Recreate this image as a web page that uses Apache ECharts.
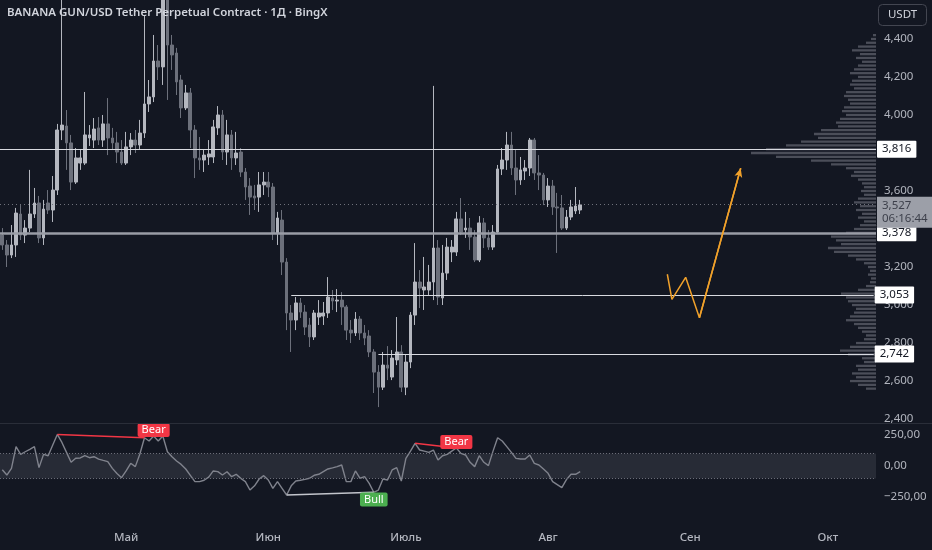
<!DOCTYPE html>
<html><head><meta charset="utf-8">
<script src="https://cdn.jsdelivr.net/npm/echarts@6/dist/echarts.min.js"></script>
<style>html,body{margin:0;padding:0;background:#131722;overflow:hidden}#c{width:932px;height:550px}</style>
</head><body><div id="c"></div>
<script>
// ---- data ----
const titleText = 'BANANA GUN/USD Tether Perpetual Contract · 1Д · BingX';
const startDay = [2025, 3, 4]; // first candle: 4 Apr
const categoryCount = 191;
const monthNames = {'05':'Май','06':'Июн','07':'Июль','08':'Авг','09':'Сен','10':'Окт'};
const priceTicks = [2.4, 2.6, 2.8, 3.0, 3.2, 3.4, 3.6, 3.8, 4.0, 4.2, 4.4];
const cciTicks = [-250, 0, 250];

// [open, close, low, high]
const priceOHLC = [
[3.368,3.316,3.290,3.405],[3.316,3.263,3.200,3.342],[3.263,3.316,3.247,3.421],[3.316,3.484,3.253,3.511],
[3.479,3.368,3.342,3.526],[3.368,3.405,3.326,3.447],[3.405,3.479,3.384,3.711],[3.479,3.537,3.458,3.616],
[3.537,3.353,3.326,3.574],[3.353,3.505,3.316,3.553],[3.537,3.500,3.479,3.605],[3.500,3.605,3.437,3.679],
[3.605,3.921,3.579,3.953],[3.921,3.947,3.868,4.711],[3.942,3.853,3.711,4.026],[3.853,3.647,3.605,3.895],
[3.647,3.774,3.637,3.826],[3.747,3.774,3.711,3.816],[3.747,3.895,3.737,4.121],[3.879,3.895,3.837,3.947],
[3.868,3.926,3.826,3.984],[3.932,3.868,3.842,3.989],[3.868,3.953,3.832,4.000],[3.953,3.879,3.789,4.089],
[3.879,3.853,3.816,3.932],[3.853,3.805,3.747,3.911],[3.805,3.747,3.737,3.868],[3.747,3.832,3.737,3.911],
[3.832,3.868,3.789,3.905],[3.868,3.842,3.800,3.921],[3.842,3.905,3.816,3.974],[3.905,4.058,3.879,4.526],
[4.058,4.095,4.016,4.184],[4.095,4.284,4.068,4.421],[4.284,4.253,4.184,4.368],[4.253,4.632,4.158,4.763],
[4.632,4.368,4.079,4.737],[4.368,4.316,4.237,4.421],[4.326,4.174,4.105,4.353],[4.184,4.037,3.984,4.211],
[4.037,4.116,4.026,4.158],[4.116,3.921,3.826,4.142],[3.921,3.774,3.668,3.947],[3.774,3.763,3.711,3.884],
[3.763,3.789,3.700,3.816],[3.779,3.795,3.737,3.868],[3.779,3.937,3.747,3.974],[3.932,4.000,3.895,4.047],
[4.000,3.805,3.763,4.026],[3.805,3.895,3.737,3.974],[3.895,3.774,3.711,3.921],[3.774,3.800,3.737,3.911],
[3.805,3.700,3.674,3.826],[3.700,3.621,3.553,3.721],[3.626,3.568,3.474,3.668],[3.574,3.563,3.500,3.632],
[3.568,3.632,3.490,3.700],[3.632,3.647,3.579,3.700],[3.647,3.621,3.568,3.700],[3.621,3.379,3.342,3.642],
[3.379,3.458,3.316,3.490],[3.447,3.226,3.158,3.500],[3.226,2.958,2.868,3.247],[2.958,2.921,2.753,3.000],
[2.921,3.011,2.868,3.042],[3.011,2.963,2.932,3.037],[2.963,2.884,2.842,3.000],[2.895,2.832,2.779,2.932],
[2.832,2.958,2.816,2.974],[2.937,2.958,2.895,3.026],[2.942,2.958,2.895,3.016],[2.958,3.042,2.932,3.147],
[3.037,3.021,2.974,3.079],[3.021,3.026,2.963,3.084],[3.026,2.990,2.895,3.068],[2.990,2.868,2.816,3.000],
[2.868,2.853,2.800,2.921],[2.853,2.926,2.837,2.963],[2.926,2.853,2.816,2.942],[2.853,2.826,2.789,2.895],
[2.837,2.753,2.726,2.868],[2.753,2.647,2.537,2.768],[2.647,2.568,2.463,2.684],[2.568,2.684,2.553,2.753],
[2.684,2.668,2.605,2.784],[2.621,2.721,2.605,2.763],[2.711,2.753,2.684,2.937],[2.753,2.568,2.542,2.789],
[2.568,2.700,2.526,2.737],[2.700,2.947,2.668,2.963],[2.947,3.121,2.895,3.326],[3.121,3.089,2.984,3.184],
[3.079,3.095,2.974,3.253],[3.079,3.121,3.053,3.211],[3.121,3.300,3.026,4.153],[3.300,3.042,3.000,3.342],
[3.037,3.168,3.000,3.316],[3.168,3.305,3.132,3.353],[3.279,3.305,3.226,3.342],[3.279,3.453,3.258,3.490],
[3.453,3.384,3.368,3.563],[3.395,3.405,3.353,3.490],[3.405,3.358,3.290,3.458],[3.358,3.237,3.226,3.395],
[3.237,3.432,3.226,3.468],[3.432,3.353,3.300,3.458],[3.353,3.305,3.290,3.395],[3.305,3.384,3.290,3.421],
[3.384,3.716,3.374,3.737],[3.716,3.763,3.684,3.826],[3.763,3.842,3.711,3.911],[3.842,3.721,3.684,3.911],
[3.721,3.658,3.579,3.816],[3.658,3.711,3.632,3.779],[3.705,3.721,3.658,3.763],[3.721,3.868,3.679,3.879],
[3.868,3.695,3.658,3.879],[3.695,3.684,3.605,3.789],[3.684,3.553,3.526,3.695],[3.553,3.626,3.516,3.668],
[3.626,3.516,3.474,3.658],[3.516,3.511,3.274,3.590],[3.511,3.405,3.395,3.579],[3.405,3.463,3.395,3.500],
[3.463,3.516,3.447,3.553],[3.495,3.521,3.479,3.621],[3.500,3.527,3.479,3.553]
];

const cciValues = [
-30,-73,-19,156,94,115,135,156,-13,94,83,170,255,190,110,30,62,65,83,67,
75,56,45,35,-19,-60,-94,-40,22,-5,97,228,202,242,202,242,115,75,40,13,
-24,-75,-126,-126,-115,-90,-40,-45,-73,-46,-86,-67,-100,-126,-194,-160,-105,-78,-113,-180,
-126,-180,-234,-160,-121,-115,-108,-99,-75,-67,-45,-24,-15,-5,8,-126,-126,-40,-99,-86,
-140,-212,-194,-105,-113,-32,-13,-121,62,120,183,129,120,110,129,48,83,94,120,145,
102,89,30,-5,83,30,3,120,228,202,156,110,62,56,56,89,21,8,-25,-59,
-126,-150,-175,-110,-67,-67,-46
];

// horizontal levels drawn on the chart
const levelValues = [3.816, 3.378, 3.053, 2.742];
const levelStartIdx = [0, 0, 63, 82];
const lastPrice = 3.527;
const countdownText = '06:16:44';

// orange forecast path
const forecastIdx = [145, 146, 149, 152, 161];
const forecastPrice = [3.162, 3.030, 3.146, 2.933, 3.720];

// CCI divergences
const bearLine1 = [[12, 255], [31, 228]];
const bearLine2 = [[90, 183], [99, 145]];
const bullLine = [[62, -234], [81, -212]];
const divLabels = [
  {name: 'Bear', at: [33, 290], color: '#f23645'},
  {name: 'Bear', at: [99, 194], color: '#f23645'},
  {name: 'Bull', at: [81, -270], color: '#4caf50'}
];

// volume profile (price level, relative volume)
const profilePrices = [2.56,2.58,2.60,2.62,2.64,2.66,2.68,2.70,2.72,2.74,2.76,2.78,2.80,2.82,2.84,2.86,2.88,2.90,2.92,2.94,
2.96,2.98,3.00,3.02,3.04,3.06,3.08,3.10,3.12,3.14,3.16,3.18,3.20,3.22,3.24,3.26,3.28,3.30,3.32,3.34,
3.36,3.38,3.40,3.42,3.44,3.46,3.48,3.50,3.52,3.54,3.56,3.58,3.60,3.62,3.64,3.66,3.68,3.70,3.72,3.74,
3.76,3.78,3.80,3.82,3.84,3.86,3.88,3.90,3.92,3.94,3.96,3.98,4.00,4.02,4.04,4.06,4.08,4.10,4.12,4.14,
4.16,4.18,4.20,4.22,4.24,4.26,4.28,4.30,4.32,4.34,4.36,4.38,4.40,4.42];
const profileVolumes = [10,18,26,20,24,18,20,12,14,28,36,26,20,12,10,14,18,22,30,26,
22,20,24,28,30,35,18,10,6,5,8,6,8,12,20,28,42,48,35,40,
45,30,22,16,12,18,14,20,16,22,18,12,15,12,14,18,25,22,30,45,
65,100,125,110,90,75,58,62,55,38,40,36,30,34,32,26,28,32,30,22,
26,24,18,26,22,18,14,20,16,24,18,10,5,3];

// ---- build ----
const dates = [];
const t0 = Date.UTC(startDay[0], startDay[1], startDay[2]);
for (let i = 0; i < categoryCount; i++) dates.push(new Date(t0 + i * 86400000).toISOString().slice(0, 10));

const FONT = '"Noto Sans", "Open Sans", sans-serif';
const fmtPrice = v => v.toFixed(3).replace('.', ',');
const fmtCci = v => (v < 0 ? '\u2212' : '') + Math.abs(v).toFixed(2).replace('.', ',');

const whiteBox = txt => ({
  show: true, position: 'end', distance: 1, formatter: txt,
  backgroundColor: '#ffffff', color: '#131722', padding: [3, 5, 2, 5],
  fontSize: 11.5, fontFamily: FONT, borderRadius: 1
});

const levelMarks = levelValues.map((v, i) => {
  const style = i === 1 ? {color: '#9a9da6', width: 2.5, type: 'solid'} : {color: '#d8dae0', width: 1, type: 'solid'};
  if (levelStartIdx[i] === 0) {
    return {yAxis: v, lineStyle: style, label: whiteBox(fmtPrice(v))};
  }
  return [
    {coord: [levelStartIdx[i], v], lineStyle: style, label: whiteBox(fmtPrice(v))},
    {coord: [categoryCount - 1, v]}
  ];
});
levelMarks.push({
  yAxis: lastPrice,
  lineStyle: {color: '#6f727c', width: 1, type: [1, 3]},
  label: {show: true, position: 'end', distance: 1, offset: [0, 8],
    formatter: fmtPrice(lastPrice) + '\n' + countdownText,
    backgroundColor: '#9c9fa8', color: '#3d404b', padding: [3, 5, 2, 5],
    fontSize: 11.5, lineHeight: 13, fontFamily: FONT, align: 'left'}
});

const chart = echarts.init(document.getElementById('c'), null, {renderer: 'canvas'});
const yMain = {min: 2.374, max: 4.605};

chart.setOption({
  backgroundColor: '#131722',
  animation: false,
  grid: [
    {left: 0, right: 56, top: 0, height: 424},
    {left: 0, right: 56, top: 0, height: 424},
    {left: 0, right: 56, top: 424, height: 98}
  ],
  xAxis: [
    {type: 'category', gridIndex: 0, data: dates, boundaryGap: true,
     axisLabel: {show: false}, axisTick: {show: false}, axisLine: {show: false}, splitLine: {show: false}},
    {type: 'value', gridIndex: 1, inverse: true, min: 0, max: 876, show: false},
    {type: 'category', gridIndex: 2, data: dates, boundaryGap: true,
     axisTick: {show: false}, axisLine: {show: false}, splitLine: {show: false},
     axisLabel: {
       color: '#b2b5be', fontSize: 11.5, fontFamily: FONT, margin: 10, fontWeight: 500,
       interval: (idx, val) => val.slice(8) === '01',
       formatter: val => monthNames[val.slice(5, 7)] || ''
     }}
  ],
  yAxis: [
    {type: 'value', gridIndex: 0, position: 'right', min: yMain.min, max: yMain.max, scale: true,
     splitLine: {show: false}, axisLine: {show: false}, axisTick: {show: false},
     axisLabel: {color: '#b2b5be', fontSize: 11.5, fontFamily: FONT, margin: 8,
       customValues: priceTicks, formatter: v => fmtPrice(v)}},
    {type: 'value', gridIndex: 1, min: yMain.min, max: yMain.max, show: false},
    {type: 'value', gridIndex: 2, position: 'right', min: -452, max: 339,
     splitLine: {show: false}, axisLine: {show: false}, axisTick: {show: false},
     axisLabel: {color: '#b2b5be', fontSize: 11.5, fontFamily: FONT, margin: 8,
       customValues: cciTicks, formatter: v => fmtCci(v)}}
  ],
  graphic: [
    {type: 'text', left: 7, top: 7, z: 100,
     style: {text: titleText, fill: '#d1d4dc', font: '600 11.5px ' + FONT}},
    {type: 'rect', z: 100, shape: {x: 878.5, y: 4.5, width: 48, height: 21, r: 4},
     style: {fill: '#131722', stroke: '#434651', lineWidth: 1}},
    {type: 'text', z: 101, x: 902.5, y: 15, style: {text: 'USDT', fill: '#d1d4dc', font: '11.5px ' + FONT, align: 'center', verticalAlign: 'middle'}},
    {type: 'line', z: 50, shape: {x1: 0, y1: 423.5, x2: 932, y2: 423.5}, style: {stroke: '#2a2e39', lineWidth: 1}}
  ],
  series: [
    {
      type: 'custom', name: 'profile', xAxisIndex: 1, yAxisIndex: 1, silent: true, z: 1,
      data: profileVolumes.map((v, i) => [v, profilePrices[i]]),
      renderItem: (params, api) => {
        const a = api.coord([0, api.value(1)]);
        const b = api.coord([api.value(0), api.value(1)]);
        const h = api.size([0, 0.02])[1] * 0.6;
        return {type: 'rect',
          shape: {x: Math.min(a[0], b[0]), y: a[1] - h / 2, width: Math.abs(a[0] - b[0]), height: h},
          style: {fill: '#5a5d68', opacity: 0.8}};
      }
    },
    {
      type: 'candlestick', name: 'price', xAxisIndex: 0, yAxisIndex: 0, z: 3,
      data: priceOHLC, barWidth: 3.2,
      itemStyle: {color: '#b4b7bf', color0: '#6c707b', borderColor: '#b4b7bf', borderColor0: '#6c707b', borderWidth: 1},
      markLine: {symbol: ['none', 'none'], silent: true, animation: false, z: 4, data: levelMarks}
    },
    {
      type: 'line', name: 'forecast', xAxisIndex: 0, yAxisIndex: 0, z: 5,
      data: forecastIdx.map((x, i) => [x, forecastPrice[i]]),
      symbol: 'none', lineStyle: {color: '#f0a12b', width: 1.5},
      markLine: {
        symbol: ['none', 'arrow'], symbolSize: [6, 9], silent: true, label: {show: false},
        lineStyle: {color: '#f0a12b', width: 1.5, type: 'solid'},
        data: [[{coord: [forecastIdx[3], forecastPrice[3]]}, {coord: [forecastIdx[4], forecastPrice[4]]}]]
      }
    },
    {
      type: 'line', name: 'CCI', xAxisIndex: 2, yAxisIndex: 2, z: 3,
      data: cciValues, symbol: 'none', lineStyle: {color: '#80838d', width: 1.4},
      markArea: {silent: true, itemStyle: {color: 'rgba(120,123,134,0.2)'},
        data: [[{yAxis: 100}, {yAxis: -100}]]},
      markLine: {symbol: ['none', 'none'], silent: true, label: {show: false},
        lineStyle: {color: '#6a6d78', width: 1, type: [1, 2]},
        data: [{yAxis: 100}, {yAxis: -100}]}
    },
    {type: 'line', xAxisIndex: 2, yAxisIndex: 2, z: 4, data: bearLine1, symbol: 'none', lineStyle: {color: '#f23645', width: 1.5}},
    {type: 'line', xAxisIndex: 2, yAxisIndex: 2, z: 4, data: bearLine2, symbol: 'none', lineStyle: {color: '#f23645', width: 1.5}},
    {type: 'line', xAxisIndex: 2, yAxisIndex: 2, z: 4, data: bullLine, symbol: 'none', lineStyle: {color: '#c3c5cc', width: 1.5}},
    {
      type: 'scatter', xAxisIndex: 2, yAxisIndex: 2, z: 6, symbolSize: 2, silent: true,
      itemStyle: {color: 'rgba(0,0,0,0)', opacity: 1},
      data: divLabels.map(d => ({name: d.name, value: d.at,
        label: {show: true, position: 'inside', formatter: '{b}', color: '#ffffff', opacity: 1,
          backgroundColor: d.color, padding: [2, 4, 1, 4], borderRadius: 2,
          fontSize: 11, fontFamily: FONT}}))
    }
  ]
});
</script></body></html>
